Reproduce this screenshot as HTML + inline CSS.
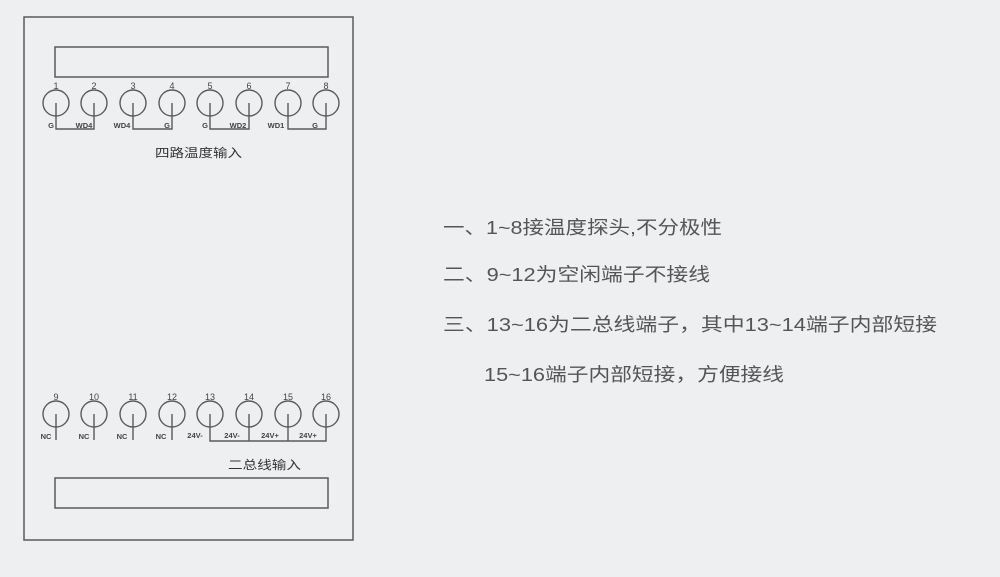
<!DOCTYPE html>
<html><head><meta charset="utf-8"><style>
html,body{margin:0;padding:0;background:#eeeff0;}
svg{display:block}
text{font-family:"Liberation Sans","Noto Sans CJK SC",sans-serif;}
</style></head><body>
<svg width="1000" height="577" viewBox="0 0 1000 577" xmlns="http://www.w3.org/2000/svg">
<rect width="1000" height="577" fill="#eeeff0"/>
<g fill="none" stroke="#5a5a5a" stroke-width="1.5">
<rect x="24" y="17" width="329" height="523"/>
<rect x="55" y="47" width="273" height="30"/>
<rect x="55" y="478" width="273" height="30"/>
</g>
<g fill="none" stroke="#5a5a5a" stroke-width="1.4">
<circle cx="56" cy="103" r="13"/><circle cx="94" cy="103" r="13"/><circle cx="133" cy="103" r="13"/><circle cx="172" cy="103" r="13"/>
<circle cx="210" cy="103" r="13"/><circle cx="249" cy="103" r="13"/><circle cx="288" cy="103" r="13"/><circle cx="326" cy="103" r="13"/>
<path d="M56 103V129H94V103M133 103V129H172V103M210 103V129H249V103M288 103V129H326V103"/>
<circle cx="56" cy="414" r="13"/><circle cx="94" cy="414" r="13"/><circle cx="133" cy="414" r="13"/><circle cx="172" cy="414" r="13"/>
<circle cx="210" cy="414" r="13"/><circle cx="249" cy="414" r="13"/><circle cx="288" cy="414" r="13"/><circle cx="326" cy="414" r="13"/>
<path d="M56 414V440M94 414V440M133 414V440M172 414V440M210 414V441H326V414M249 414V441M288 414V441"/>
</g>
<g fill="#444" font-size="9" text-anchor="middle">
<text x="56" y="89">1</text><text x="94" y="89">2</text><text x="133" y="89">3</text><text x="172" y="89">4</text>
<text x="210" y="89">5</text><text x="249" y="89">6</text><text x="288" y="89">7</text><text x="326" y="89">8</text>
<text x="56" y="400">9</text><text x="94" y="400">10</text><text x="133" y="400">11</text><text x="172" y="400">12</text>
<text x="210" y="400">13</text><text x="249" y="400">14</text><text x="288" y="400">15</text><text x="326" y="400">16</text>
</g>
<g fill="#444" font-size="7.5" font-weight="bold" text-anchor="middle">
<text x="51" y="128">G</text><text x="84" y="128">WD4</text><text x="122" y="128">WD4</text><text x="167" y="128">G</text>
<text x="205" y="128">G</text><text x="238" y="128">WD2</text><text x="276" y="128">WD1</text><text x="315" y="128">G</text>
<text x="46" y="439">NC</text><text x="84" y="439">NC</text><text x="122" y="439">NC</text><text x="161" y="439">NC</text>
<text x="195" y="438">24V-</text><text x="232" y="438">24V-</text><text x="270" y="438">24V+</text><text x="308" y="438">24V+</text>
</g>
<g fill="#333" font-size="12">
<text x="155" y="157" textLength="87" lengthAdjust="spacingAndGlyphs">四路温度输入</text>
<text x="228" y="469" textLength="73" lengthAdjust="spacingAndGlyphs">二总线输入</text>
</g>
<g fill="#555" font-size="18.5">
<text x="443" y="234" textLength="279" lengthAdjust="spacingAndGlyphs">一、1~8接温度探头,不分极性</text>
<text x="443" y="281" textLength="267" lengthAdjust="spacingAndGlyphs">二、9~12为空闲端子不接线</text>
<text x="443" y="331" textLength="494" lengthAdjust="spacingAndGlyphs">三、13~16为二总线端子，其中13~14端子内部短接</text>
<text x="484" y="381" textLength="300" lengthAdjust="spacingAndGlyphs">15~16端子内部短接，方便接线</text>
</g>
</svg>
</body></html>
